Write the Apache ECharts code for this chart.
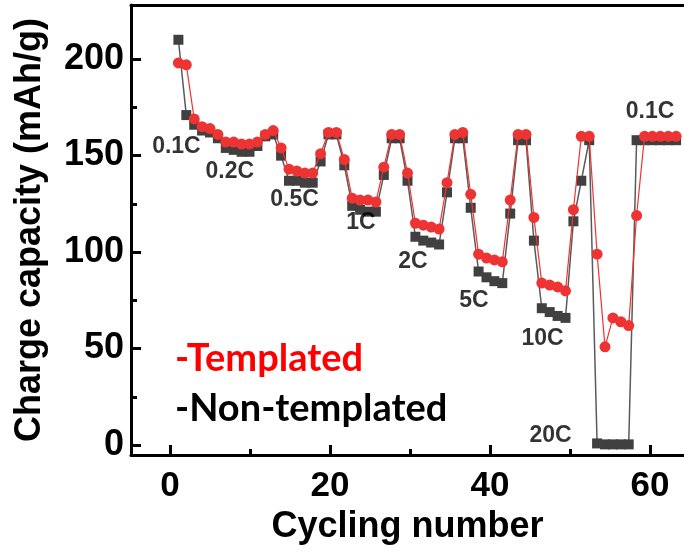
<!DOCTYPE html>
<html>
<head>
<meta charset="utf-8">
<script src="https://cdn.jsdelivr.net/npm/echarts@6/dist/echarts.min.js"></script>
<style>
  html, body { margin: 0; padding: 0; background: #fff; }
  #chart { width: 684px; height: 559px; }
</style>
</head>
<body>
<div id="chart"></div>
<script>
// cycle index
const cycles = [1, 2, 3, 4, 5, 6, 7, 8, 9, 10, 11, 12, 13, 14, 15, 16, 17, 18, 19, 20,
  21, 22, 23, 24, 25, 26, 27, 28, 29, 30, 31, 32, 33, 34, 35, 36, 37, 38, 39, 40,
  41, 42, 43, 44, 45, 46, 47, 48, 49, 50, 51, 52, 53, 54, 55, 56, 57, 58, 59, 60,
  61, 62, 63, 64];

// charge capacity, mAh/g
const templated = [198, 197, 169, 165, 164, 161, 157, 157, 156, 156, 157, 161, 163, 154, 143, 142, 141, 141, 151, 162,
  162, 148, 128, 127, 127, 126, 144, 161, 161, 141, 115, 114, 113, 112, 136, 161, 162, 130, 99, 97,
  96, 95, 127, 161, 161, 118, 84, 83, 82, 80, 122, 160, 160, 99, 51, 66, 64, 62, 119, 160,
  160, 160, 160, 160];
const nonTemplated = [210, 171, 166, 163, 162, 159, 154, 153, 152, 152, 155, 160, 161, 150, 137, 137, 136, 136, 147, 161,
  161, 145, 124, 122, 121, 121, 140, 159, 159, 137, 108, 106, 105, 104, 131, 159, 159, 123, 90, 87,
  85, 84, 120, 158, 158, 106, 71, 69, 67, 66, 116, 137, 158, 1, 0.5, 0.5, 0.5, 0.5, 158, 158,
  158, 158, 158, 158];

// C-rate annotations (placed in data coordinates)
const rateNames = ['0.1C', '0.2C', '0.5C', '1C', '2C', '5C', '10C', '20C', '0.1C'];
const rateX = [0.75, 7.5, 15.7, 24.1, 30.7, 38.4, 47.1, 48.1, 60.7];
const rateY = [154.7, 141.7, 127, 115.5, 95, 75, 55.4, 5.2, 173];

// tick ranges: x 0..60 step 20, y 0..200 step 50 (minor ticks halve them)
const xTickRange = [0, 60], xStep = 20;
const yTickRange = [0, 200], yStep = 50;

const AXIS_FONT = '"Liberation Sans", Arial, sans-serif';

const chart = echarts.init(document.getElementById('chart'), null, { renderer: 'canvas' });

const zip = (xs, ys) => xs.map((x, i) => [x, ys[i]]);

const frameLine = { show: true, onZero: false, lineStyle: { color: '#000', width: 3 } };
const noLine = { show: false, onZero: false };
const tickStyle = { color: '#000', width: 3 };
const off = { show: false };

chart.setOption({
  animation: false,
  backgroundColor: '#fff',
  grid: [
    // plot frame + data: x -5..65, y -5..228 (8 px / cycle, 1.93 px / mAh g-1)
    { left: 131, top: 5, right: -8, bottom: 104, containLabel: false },
    // same scale, only spanning the labelled tick range
    { left: 170, top: 59, right: 34, bottom: 114, containLabel: false }
  ],
  xAxis: [
    {
      type: 'value', gridIndex: 0, position: 'bottom', min: -5, max: 65,
      axisLine: frameLine, axisTick: off, axisLabel: off, splitLine: off,
      name: 'Cycling number', nameLocation: 'middle', nameGap: 54,
      nameTextStyle: { color: '#000', fontSize: 36, fontWeight: 'bold', fontFamily: AXIS_FONT }
    },
    {
      type: 'value', gridIndex: 0, position: 'top', min: -5, max: 65,
      axisLine: frameLine, axisTick: off, axisLabel: off, splitLine: off
    },
    {
      type: 'value', gridIndex: 1, position: 'bottom',
      min: xTickRange[0], max: xTickRange[1], interval: xStep, offset: 10,
      axisLine: noLine, splitLine: off,
      axisTick: { show: true, inside: true, length: 10, lineStyle: tickStyle },
      minorTick: { show: true, splitNumber: 2, length: 6, lineStyle: tickStyle },
      axisLabel: { show: true, margin: 14, color: '#000', fontSize: 35, fontWeight: 'bold', fontFamily: AXIS_FONT }
    }
  ],
  yAxis: [
    {
      type: 'value', gridIndex: 0, position: 'left', min: -5, max: 228,
      axisLine: frameLine, axisTick: off, axisLabel: off, splitLine: off,
      name: 'Charge capacity (mAh/g)', nameLocation: 'middle', nameGap: 83,
      nameTextStyle: { color: '#000', fontSize: 36, fontWeight: 'bold', fontFamily: AXIS_FONT }
    },
    {
      type: 'value', gridIndex: 1, position: 'left',
      min: yTickRange[0], max: yTickRange[1], interval: yStep, offset: 39,
      axisLine: noLine, splitLine: off,
      axisTick: { show: true, inside: true, length: 10, lineStyle: tickStyle },
      minorTick: { show: true, splitNumber: 2, length: 6, lineStyle: tickStyle },
      axisLabel: { show: true, margin: 7, color: '#000', fontSize: 36, fontWeight: 'bold', fontFamily: AXIS_FONT }
    }
  ],
  graphic: [
    {
      type: 'text', left: 175, top: 340,
      style: { text: '-Templated', fill: '#ff0000', font: 'bold 38px Lato, "Open Sans", sans-serif' }
    },
    {
      type: 'text', left: 175, top: 390,
      style: { text: '-Non-templated', fill: '#000', font: 'bold 38px Lato, "Open Sans", sans-serif' }
    }
  ],
  series: [
    {
      name: 'Non-templated', type: 'line', xAxisIndex: 0, yAxisIndex: 0,
      data: zip(cycles, nonTemplated),
      symbol: 'rect', symbolSize: 10,
      itemStyle: { color: '#404040' },
      lineStyle: { color: '#5a5a5a', width: 1.5 },
      z: 2
    },
    {
      name: 'Templated', type: 'line', xAxisIndex: 0, yAxisIndex: 0,
      data: zip(cycles, templated),
      symbol: 'circle', symbolSize: 11,
      itemStyle: { color: '#ee3333' },
      lineStyle: { color: '#ee3333', width: 1.2 },
      z: 3
    },
    {
      name: 'rates', type: 'scatter', xAxisIndex: 0, yAxisIndex: 0,
      data: rateNames.map((t, i) => ({ name: t, value: [rateX[i], rateY[i]] })),
      symbolSize: 0,
      silent: true,
      label: {
        show: true, position: 'inside', formatter: p => p.name,
        color: '#000', fontSize: 23, fontWeight: 'bold', fontFamily: AXIS_FONT
      },
      z: 4
    }
  ]
});
</script>
</body>
</html>
